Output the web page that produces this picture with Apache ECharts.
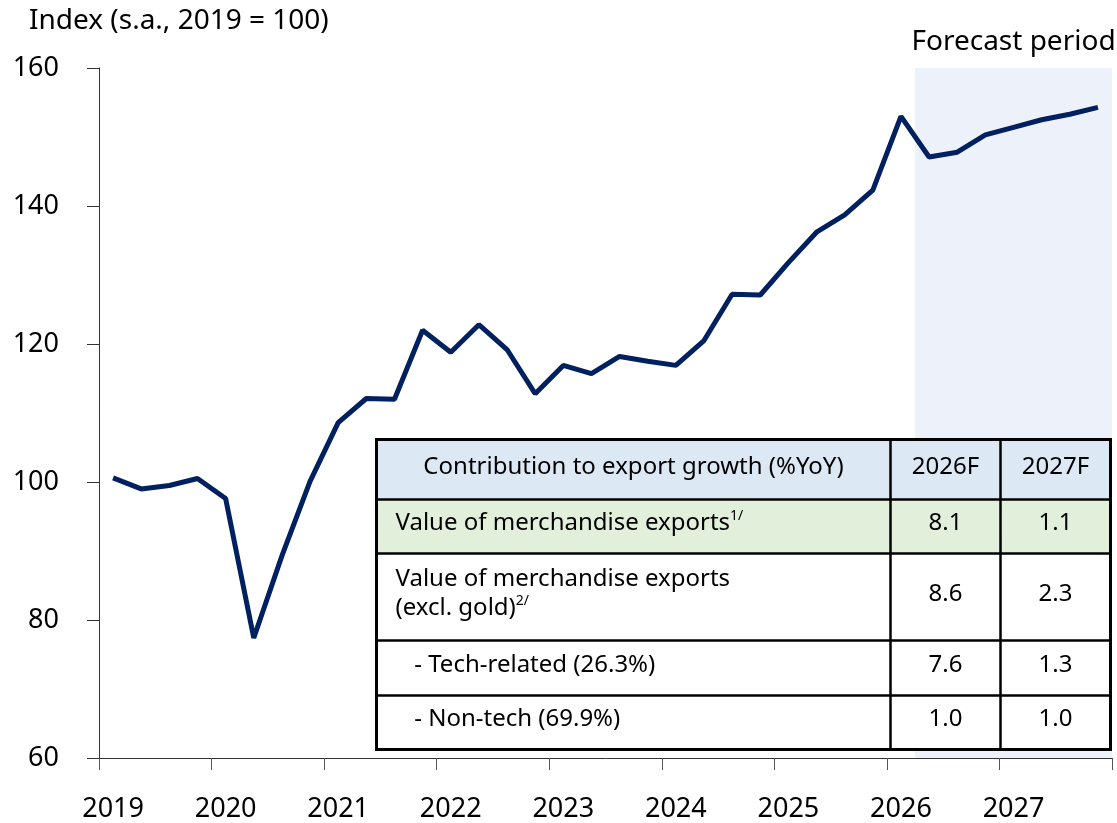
<!DOCTYPE html>
<html>
<head>
<meta charset="utf-8">
<script src="https://cdn.jsdelivr.net/npm/echarts@6/dist/echarts.min.js"></script>
<style>
html,body{margin:0;padding:0;background:#fff}
#chart{width:1117px;height:823px}
</style>
</head>
<body>
<div id="chart"></div>
<script>
// ปีบนแกน x (ข้อมูลรายไตรมาส)
var years = ['2019','2020','2021','2022','2023','2024','2025','2026','2027'];
var quarters = [];
years.forEach(function (y) {
    for (var q = 1; q <= 4; q++) quarters.push(y + 'Q' + q);
});

// ดัชนีมูลค่าส่งออก (s.a., 2019 = 100)
var exportIndex = [100.6, 99.0, 99.5, 100.5, 97.6, 77.4, 89.3, 100.1,
    108.6, 112.1, 112.0, 122.0, 118.8, 122.8, 119.2, 112.8,
    116.9, 115.7, 118.2, 117.5, 116.9, 120.5, 127.2, 127.1,
    131.8, 136.2, 138.7, 142.3, 153.0, 147.1, 147.8, 150.3,
    151.4, 152.5, 153.3, 154.3];

// ช่วงประมาณการเริ่ม 2026Q2
var forecastStart = '2026Q2';
var forecastLabel = 'Forecast period';

// ตาราง
var tableHeader = ['Contribution to export growth (%YoY)', '2026F', '2027F'];
var rowLabels = [
    'Value of merchandise exports{sup|1/}',
    'Value of merchandise exports\n(excl. gold){sup|2/}',
    '   - Tech-related (26.3%)',
    '   - Non-tech (69.9%)'
];
var values2026 = ['8.1', '8.6', '7.6', '1.0'];
var values2027 = ['1.1', '2.3', '1.3', '1.0'];

var FONT = '"Noto Sans", sans-serif';

// สร้างตารางด้วย graphic
function buildTable() {
    var colX = [0, 514, 624, 734];
    var rowY = [0, 60, 114, 201, 256, 310];
    var fills = ['#dde8f5', '#e2efda', '#ffffff', '#ffffff', '#ffffff'];
    var els = [];
    for (var r = 0; r < 5; r++) {
        els.push({type: 'rect', z: 100, shape: {x: 0, y: rowY[r], width: colX[3], height: rowY[r + 1] - rowY[r]},
            style: {fill: fills[r]}});
    }
    for (var r = 1; r < 5; r++) {
        els.push({type: 'line', z: 101, shape: {x1: 0, y1: rowY[r], x2: colX[3], y2: rowY[r]},
            style: {stroke: '#000', lineWidth: 2.5}});
    }
    for (var c = 1; c < 3; c++) {
        els.push({type: 'line', z: 101, shape: {x1: colX[c], y1: 0, x2: colX[c], y2: rowY[5]},
            style: {stroke: '#000', lineWidth: 2.5}});
    }
    els.push({type: 'rect', z: 102, shape: {x: 0, y: 0, width: colX[3], height: rowY[5]},
        style: {fill: null, stroke: '#000', lineWidth: 3}});

    // header
    els.push({type: 'text', z: 103, x: (colX[0] + colX[1]) / 2, y: 28,
        style: {text: tableHeader[0], font: '24px ' + FONT, fill: '#000', align: 'center', verticalAlign: 'middle'}});
    for (var c = 1; c < 3; c++) {
        els.push({type: 'text', z: 103, x: (colX[c] + colX[c + 1]) / 2, y: 28,
            style: {text: tableHeader[c], font: '24px ' + FONT, fill: '#000', align: 'center', verticalAlign: 'middle'}});
    }
    for (var r = 0; r < rowLabels.length; r++) {
        var cy = (rowY[r + 1] + rowY[r + 2]) / 2 - 3;
        els.push({type: 'text', z: 103, x: 19, y: cy,
            style: {text: rowLabels[r], fontSize: 24, fontFamily: FONT, fill: '#000', lineHeight: 29,
                align: 'left', verticalAlign: 'middle',
                rich: {sup: {fontSize: 14, fontFamily: FONT, verticalAlign: 'top', lineHeight: 29, padding: [0, 0, 12, 0]}}}});
        els.push({type: 'text', z: 103, x: (colX[1] + colX[2]) / 2, y: cy,
            style: {text: values2026[r], font: '24px ' + FONT, fill: '#000', align: 'center', verticalAlign: 'middle'}});
        els.push({type: 'text', z: 103, x: (colX[2] + colX[3]) / 2, y: cy,
            style: {text: values2027[r], font: '24px ' + FONT, fill: '#000', align: 'center', verticalAlign: 'middle'}});
    }
    return {type: 'group', left: 374, top: 437, z: 100, children: els};
}

var myChart = echarts.init(document.getElementById('chart'));
var option = {
    animation: false,
    textStyle: {fontFamily: FONT},
    title: {
        text: 'Index (s.a., 2019 = 100)',
        left: 24, top: 2,
        textStyle: {fontSize: 28, fontWeight: 'normal', color: '#000', fontFamily: FONT}
    },
    grid: {left: 99, right: 5, top: 68, bottom: 65},
    xAxis: [{
        type: 'category',
        data: quarters,
        boundaryGap: true,
        axisLine: {lineStyle: {color: '#333', width: 1}},
        axisTick: {show: true, interval: 3, length: 12, lineStyle: {color: '#555'}},
        axisLabel: {
            interval: 3, margin: 38, fontSize: 27, color: '#000',
            formatter: function (v) { return v.slice(0, 4); }
        }
    }, {
        // แกนซ่อนสำหรับแรเงาช่วงประมาณการ (ขอบไตรมาส)
        type: 'value', min: 0, max: quarters.length, show: false
    }],
    yAxis: {
        type: 'value',
        min: 60, max: 160, interval: 20,
        axisLine: {show: true, lineStyle: {color: '#333', width: 1}},
        axisTick: {show: true, length: 12, lineStyle: {color: '#333'}},
        axisLabel: {margin: 40, fontSize: 27, color: '#000'},
        splitLine: {show: false}
    },
    series: [{
        type: 'line',
        xAxisIndex: 1,
        data: [],
        z: 1,
        markArea: {
            silent: true,
            itemStyle: {color: '#edf2fa'},
            label: {show: true, position: 'top', distance: 12, fontSize: 28, color: '#000'},
            data: [[{name: forecastLabel, xAxis: quarters.indexOf(forecastStart)}, {xAxis: quarters.length}]]
        }
    }, {
        type: 'line',
        data: exportIndex,
        symbol: 'none',
        lineStyle: {color: '#002060', width: 5},
        z: 3
    }],
    graphic: [buildTable()]
};
myChart.setOption(option);
</script>
</body>
</html>
